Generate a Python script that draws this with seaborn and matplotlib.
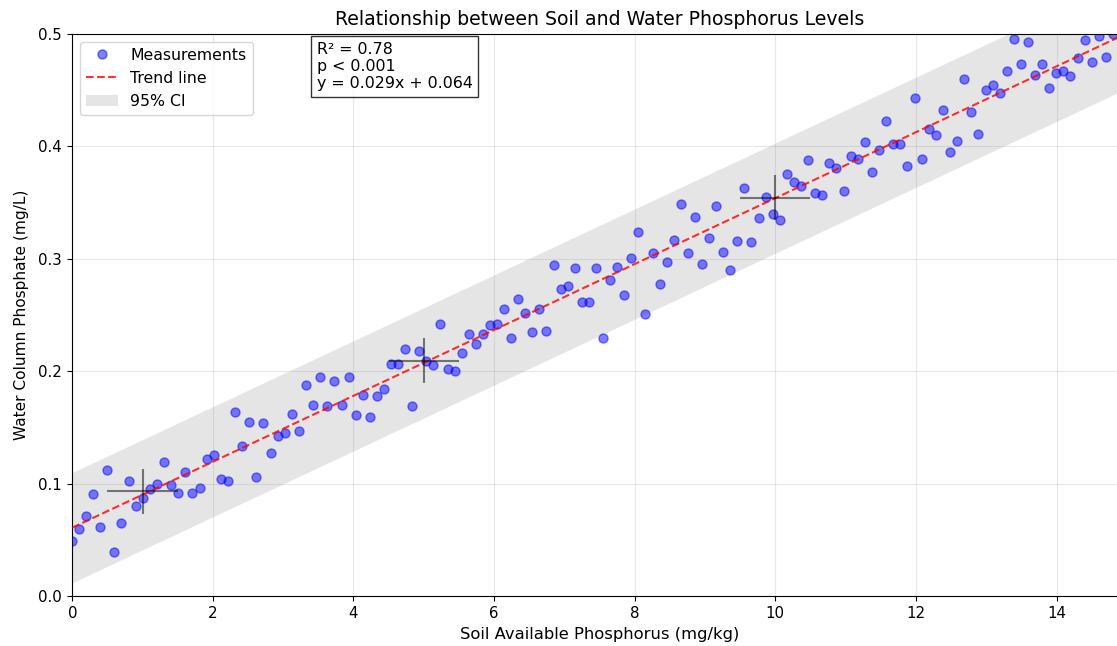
import numpy as np
import pandas as pd
import matplotlib
matplotlib.use("Agg")
import matplotlib.pyplot as plt
from matplotlib.lines import Line2D
from matplotlib.patches import Patch
import seaborn as sns

# ---- data ----
soil_p = [
    0.00, 0.10, 0.20, 0.30, 0.40, 0.50, 0.60, 0.70, 0.81, 0.91,
    1.01, 1.11, 1.21, 1.31, 1.41, 1.51, 1.61, 1.71, 1.81, 1.91,
    2.01, 2.11, 2.21, 2.32, 2.42, 2.52, 2.62, 2.72, 2.82, 2.92,
    3.02, 3.12, 3.22, 3.32, 3.42, 3.52, 3.62, 3.72, 3.83, 3.93,
    4.03, 4.13, 4.23, 4.33, 4.43, 4.53, 4.63, 4.73, 4.83, 4.93,
    5.03, 5.13, 5.23, 5.34, 5.44, 5.54, 5.64, 5.74, 5.84, 5.94,
    6.04, 6.14, 6.24, 6.34, 6.44, 6.54, 6.64, 6.74, 6.85, 6.95,
    7.05, 7.15, 7.25, 7.35, 7.45, 7.55, 7.65, 7.75, 7.85, 7.95,
    8.05, 8.15, 8.26, 8.36, 8.46, 8.56, 8.66, 8.76, 8.86, 8.96,
    9.06, 9.16, 9.26, 9.36, 9.46, 9.56, 9.66, 9.77, 9.87, 9.97,
    10.07, 10.17, 10.27, 10.37, 10.47, 10.57, 10.67, 10.77, 10.87, 10.97,
    11.07, 11.17, 11.28, 11.38, 11.48, 11.58, 11.68, 11.78, 11.88, 11.98,
    12.08, 12.18, 12.28, 12.38, 12.48, 12.58, 12.68, 12.79, 12.89, 12.99,
    13.09, 13.19, 13.29, 13.39, 13.49, 13.59, 13.69, 13.79, 13.89, 13.99,
    14.09, 14.19, 14.30, 14.40, 14.50, 14.60, 14.70, 14.80, 14.90, 15.00,
]
water_p = [
    0.049, 0.060, 0.071, 0.091, 0.061, 0.112, 0.039, 0.065, 0.102, 0.080,
    0.087, 0.095, 0.100, 0.119, 0.099, 0.092, 0.110, 0.092, 0.096, 0.122,
    0.125, 0.104, 0.102, 0.164, 0.133, 0.155, 0.106, 0.154, 0.127, 0.142,
    0.145, 0.162, 0.147, 0.188, 0.170, 0.195, 0.169, 0.191, 0.170, 0.195,
    0.161, 0.179, 0.159, 0.178, 0.184, 0.206, 0.206, 0.220, 0.169, 0.218,
    0.209, 0.205, 0.242, 0.202, 0.200, 0.216, 0.233, 0.224, 0.233, 0.241,
    0.242, 0.255, 0.229, 0.264, 0.252, 0.235, 0.255, 0.236, 0.294, 0.273,
    0.276, 0.292, 0.261, 0.261, 0.292, 0.229, 0.281, 0.293, 0.268, 0.301,
    0.324, 0.251, 0.305, 0.277, 0.297, 0.317, 0.349, 0.305, 0.337, 0.295,
    0.318, 0.347, 0.306, 0.290, 0.316, 0.363, 0.315, 0.336, 0.355, 0.340,
    0.334, 0.375, 0.368, 0.365, 0.388, 0.358, 0.357, 0.385, 0.381, 0.360,
    0.391, 0.389, 0.404, 0.377, 0.397, 0.422, 0.402, 0.402, 0.382, 0.443,
    0.389, 0.415, 0.410, 0.432, 0.395, 0.405, 0.460, 0.430, 0.411, 0.450,
    0.454, 0.447, 0.467, 0.495, 0.473, 0.493, 0.463, 0.473, 0.452, 0.465,
    0.467, 0.462, 0.478, 0.494, 0.475, 0.498, 0.479, 0.500, 0.515, 0.520,
]
trend_slope = 0.0293
trend_intercept = 0.0608
ci_half_width = 0.049
cross_x = [1, 5, 10]
cross_y = [0.093, 0.209, 0.354]
cross_xerr = 0.5
cross_yerr = 0.02
stats_lines = ["R\u00b2 = 0.78", "p < 0.001", "y = 0.029x + 0.064"]
x_ticks = [0, 2, 4, 6, 8, 10, 12, 14]
y_ticks = [0.0, 0.1, 0.2, 0.3, 0.4, 0.5]

# ---- styling ----
plt.rcParams['font.family'] = ['DejaVu Sans']
plt.rcParams['xtick.labelsize'] = 10.8
plt.rcParams['ytick.labelsize'] = 10.8
plt.rcParams['legend.fontsize'] = 11.3
plt.rcParams['xtick.major.size'] = 3.8
plt.rcParams['ytick.major.size'] = 3.8

fig = plt.figure(figsize=(11.17, 6.46), dpi=100)
ax = fig.add_axes([0.0647, 0.0774, 0.9441, 0.8704])

df = pd.DataFrame({"soil": soil_p, "water": water_p})
xs = np.array(sorted(soil_p))
fit = trend_slope * xs + trend_intercept

ax.fill_between(xs, fit - ci_half_width, fit + ci_half_width,
                color="gray", alpha=0.2, linewidth=0, zorder=1)
sns.scatterplot(data=df, x="soil", y="water", color="blue", alpha=0.5,
                s=42, edgecolor="blue", linewidth=1.0, ax=ax, zorder=2,
                legend=False)
sns.lineplot(x=xs, y=fit, color="red", linestyle="--", linewidth=1.5,
             alpha=0.8, ax=ax, zorder=3, legend=False)
ax.errorbar(cross_x, cross_y, xerr=cross_xerr, yerr=cross_yerr, fmt="none",
            ecolor="black", alpha=0.5, elinewidth=1.5, zorder=4)

ax.set_xlim(0, 15)
ax.set_ylim(0, 0.5)
ax.set_xticks(x_ticks)
ax.set_yticks(y_ticks)
ax.set_yticklabels([f"{v:.1f}" for v in y_ticks])
ax.grid(True, alpha=0.3)
ax.set_axisbelow(True)

ax.set_xlabel("Soil Available Phosphorus (mg/kg)", fontsize=11.8)
ax.set_ylabel("Water Column Phosphate (mg/L)", fontsize=11.1, labelpad=7)
ax.set_title("Relationship between Soil and Water Phosphorus Levels", fontsize=13.6)

handles = [
    Line2D([], [], marker="o", linestyle="none", markersize=6.5,
           markerfacecolor="blue", markeredgecolor="blue", alpha=0.5),
    Line2D([], [], color="red", linestyle="--", linewidth=1.5, alpha=0.8),
    Patch(facecolor="gray", alpha=0.2),
]
ax.legend(handles, ["Measurements", "Trend line", "95% CI"], loc="upper left")

ax.text(0.232, 0.986, "\n".join(stats_lines), transform=ax.transAxes,
        va="top", ha="left", fontsize=11.4,
        bbox=dict(facecolor="white", alpha=0.8, edgecolor="black"))

fig.savefig("out.png", dpi=100)
